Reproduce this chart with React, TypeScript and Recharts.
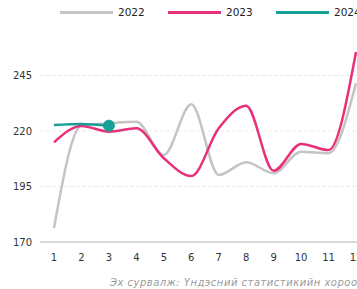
import React from "react";
import { LineChart, Line, XAxis, YAxis, CartesianGrid } from "recharts";

const months = ["1", "2", "3", "4", "5", "6", "7", "8", "9", "10", "11", "12"];
const s2022 = [176.3, 222.5, 223.5, 224.2, 209.2, 232, 200.2, 205.9, 201, 210.7, 210, 241.5];
const s2023 = [214.9, 222.3, 219.7, 221.2, 207.7, 199.7, 221.2, 231.4, 202.1, 214.2, 211.4, 255.6];
const s2024 = [222.7, 223.2, 222.4];
const yTicks = [170, 195, 220, 245];
const gridValues = [195, 220, 245];
const sourceText = "Эх сурвалж: Үндэсний статистикийн хороо";

const data = months.map((m, i) => ({
  m,
  y2022: s2022[i],
  y2023: s2023[i],
  y2024: i < s2024.length ? s2024[i] : undefined,
}));

const FONT = "'DejaVu Sans', sans-serif";

const legendItems = [
  { label: "2022", color: "#c4c4c4" },
  { label: "2023", color: "#e8317a" },
  { label: "2024", color: "#16a096" },
];

const LastDot = (props: any) => {
  const { cx, cy, index } = props;
  if (index !== s2024.length - 1) return null;
  return <circle cx={cx} cy={cy} r={5.5} fill="#16a096" stroke="#16a096" />;
};

export default function App() {
  return (
    <div style={{ position: "absolute", left: 0, top: 0, width: 357, height: 289, overflow: "hidden", background: "#fff" }}>
      <div style={{ position: "absolute", left: 0, top: 0, width: 370, height: 24, fontFamily: FONT, fontSize: 10.5, color: "#222" }}>
        {legendItems.map((it, i) => (
          <div key={it.label} style={{ position: "absolute", left: 60 + i * 108, top: 4, height: 16, display: "flex", alignItems: "center" }}>
            <div style={{ width: 53, height: 3, background: it.color, marginRight: 5 }} />
            <span>{it.label}</span>
          </div>
        ))}
      </div>
      <div style={{ position: "absolute", left: 0, top: 0 }}>
        <LineChart width={370} height={289} data={data} margin={{ top: 20, right: 0, bottom: 17, left: 0 }}>
          <CartesianGrid vertical={false} stroke="#ebebeb" strokeDasharray="4 2" horizontalValues={gridValues} />
          <XAxis
            dataKey="m"
            padding={{ left: 14, right: 14 }}
            axisLine={{ stroke: "#d9d9d9", strokeWidth: 2 }}
            tickLine={false}
            tick={{ fill: "#333", fontSize: 10, fontFamily: FONT }}
            tickMargin={6}
            height={30}
            interval={0}
          />
          <YAxis
            domain={[170, 270]}
            ticks={yTicks}
            axisLine={false}
            tickLine={false}
            width={40}
            tick={{ fill: "#333", fontSize: 10, fontFamily: FONT }}
          />
          <Line type="monotone" dataKey="y2022" stroke="#c4c4c4" strokeWidth={2.5} dot={false} isAnimationActive={false} />
          <Line type="monotone" dataKey="y2023" stroke="#e8317a" strokeWidth={2.5} dot={false} isAnimationActive={false} />
          <Line type="monotone" dataKey="y2024" stroke="#16a096" strokeWidth={2.5} dot={<LastDot />} activeDot={false} isAnimationActive={false} />
        </LineChart>
      </div>
      <div style={{ position: "absolute", left: 110, top: 277, fontFamily: FONT, fontSize: 10, letterSpacing: 0.5, fontStyle: "italic", color: "#9a9a9a", whiteSpace: "nowrap" }}>
        {sourceText}
      </div>
    </div>
  );
}
